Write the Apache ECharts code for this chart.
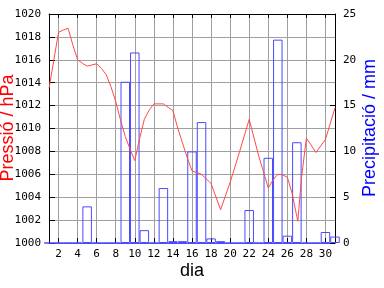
<!DOCTYPE html>
<html>
<head>
<meta charset="utf-8">
<script src="https://cdn.jsdelivr.net/npm/echarts@6/dist/echarts.min.js"></script>
<style>html,body{margin:0;padding:0;background:#fff}#c{width:384px;height:288px}</style>
</head>
<body>
<div id="c"></div>
<script>
// Daily precipitation (mm), days 1..31
const days = [1,2,3,4,5,6,7,8,9,10,11,12,13,14,15,16,17,18,19,20,21,22,23,24,25,26,27,28,29,30,31];
const precip = [0,0,0,0,4.0,0,0,0,17.6,20.8,1.4,0,6.0,0.2,0.2,10.0,13.2,0.5,0.2,0,0,3.6,0,9.3,22.2,0.8,11.0,0,0,1.2,0.7];
// Pressure (hPa) readings
const pressTimes = [1,2,2.5,3,3.5,4,4.5,5,5.5,6,6.5,7,7.5,8,8.5,9,9.5,10,10.5,11,11.5,12,13,13.5,14,14.5,15,15.5,16,17,18,19,20,21,22,23,24,24.5,25,25.5,26,26.5,27,27.1,27.5,28,28.5,29,30,31];
const pressVals = [1013.5,1018.4,1018.6,1018.75,1017.3,1016.0,1015.7,1015.45,1015.55,1015.65,1015.25,1014.7,1013.65,1012.35,1010.75,1009.3,1008.2,1007.2,1009.1,1010.8,1011.6,1012.15,1012.15,1011.85,1011.55,1010.05,1008.75,1007.45,1006.3,1006.0,1005.2,1002.9,1005.3,1008.0,1010.8,1007.6,1004.8,1005.5,1006.0,1005.95,1005.75,1004.35,1002.3,1001.9,1005.8,1009.15,1008.55,1007.9,1009.05,1011.8];
// Tick labels
const xTicks = [2,4,6,8,10,12,14,16,18,20,22,24,26,28,30];

const MONO = '"DejaVu Sans Mono", monospace';
const SANS = '"Liberation Sans", Arial, sans-serif';
const GRID = '#a0a0a0';
const plain = v => String(v);

const chart = echarts.init(document.getElementById('c'), null, {renderer: 'canvas'});
chart.setOption({
  animation: false,
  backgroundColor: '#ffffff',
  grid: {left: 49, right: 49, top: 14, bottom: 45, containLabel: false, outerBoundsMode: 'none'},
  xAxis: [{
    type: 'value', min: 1, max: 31, position: 'bottom',
    axisLine: {show: true, onZero: false, lineStyle: {color: '#4a4aff', width: 1}},
    axisTick: {show: true, inside: true, length: 5, customValues: xTicks, lineStyle: {color: '#000', width: 1}},
    axisLabel: {show: true, customValues: xTicks, margin: 6, fontFamily: MONO, fontSize: 11, color: '#000', formatter: plain},
    splitLine: {show: true, lineStyle: {color: GRID, width: 1}}
  }, {
    type: 'value', min: 1, max: 31, position: 'top',
    axisLine: {show: true, onZero: false, lineStyle: {color: '#000', width: 1}},
    axisTick: {show: true, inside: true, length: 4, customValues: xTicks, lineStyle: {color: '#000', width: 1}},
    axisLabel: {show: false},
    splitLine: {show: false}
  }],
  yAxis: [{
    type: 'value', min: 1000, max: 1020, interval: 2, position: 'left',
    axisLine: {show: true, onZero: false, lineStyle: {color: '#000', width: 1}},
    axisTick: {show: true, inside: true, length: 6, lineStyle: {color: '#000', width: 1}},
    axisLabel: {margin: 8, fontFamily: MONO, fontSize: 11, color: '#000', formatter: plain},
    splitLine: {show: true, lineStyle: {color: GRID, width: 1}}
  }, {
    type: 'value', min: 0, max: 25, interval: 5, position: 'right',
    axisLine: {show: true, onZero: false, lineStyle: {color: '#000', width: 1}},
    axisTick: {show: true, inside: true, length: 5, lineStyle: {color: '#000', width: 1}},
    axisLabel: {margin: 8, fontFamily: MONO, fontSize: 11, color: '#000', formatter: plain},
    splitLine: {show: false}
  }],
  series: [{
    type: 'bar', xAxisIndex: 0, yAxisIndex: 1,
    data: days.map((d, i) => [d, precip[i]]),
    barWidth: 9.5, clip: true,
    itemStyle: {color: 'rgba(0,0,0,0)', borderColor: '#4a4aff', borderWidth: 1},
    z: 2
  }, {
    type: 'line', xAxisIndex: 0, yAxisIndex: 0,
    data: pressTimes.map((t, i) => [t, pressVals[i]]),
    showSymbol: false, symbol: 'none', smooth: false, clip: true,
    lineStyle: {color: '#ff4a4a', width: 1},
    z: 3
  }],
  graphic: [{
    type: 'text', x: 8, y: 128, rotation: Math.PI / 2,
    style: {text: 'Pressió / hPa', font: '18px ' + SANS, fill: '#ff0000', align: 'center', verticalAlign: 'middle', textAlign: 'center', textVerticalAlign: 'middle'}
  }, {
    type: 'text', x: 370, y: 128, rotation: Math.PI / 2,
    style: {text: 'Precipitació / mm', font: '18px ' + SANS, fill: '#0000ff', align: 'center', verticalAlign: 'middle', textAlign: 'center', textVerticalAlign: 'middle'}
  }, {
    type: 'text', x: 192, y: 271,
    style: {text: 'dia', font: '18px ' + SANS, fill: '#000', align: 'center', verticalAlign: 'middle', textAlign: 'center', textVerticalAlign: 'middle'}
  }]
});
</script>
</body>
</html>
